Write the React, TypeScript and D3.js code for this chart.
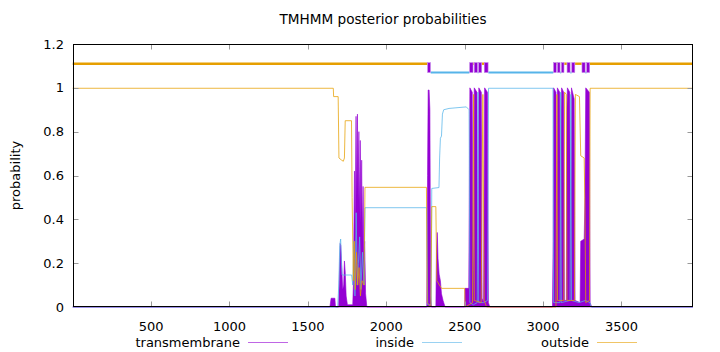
import * as d3 from 'd3';

// TMHMM posterior probabilities as [residue, probability]
const tmProb: [number, number][] = [
  [0, 0], [1640, 0], [1648, 0.04], [1672, 0.04], [1676, 0], [1696, 0], [1700, 0.12], [1706, 0.29],
  [1710, 0.28], [1716, 0.18], [1722, 0.08], [1728, 0.1], [1733, 0.21], [1738, 0.16], [1744, 0.05],
  [1752, 0.01], [1786, 0.01], [1790, 0.1], [1797, 0.62], [1801, 0.35], [1807, 0.87], [1811, 0.5],
  [1816, 0.88], [1820, 0.48], [1825, 0.8], [1829, 0.42], [1834, 0.76], [1838, 0.38], [1843, 0.67],
  [1847, 0.3], [1852, 0.55], [1857, 0.22], [1862, 0.3], [1868, 0.06], [1876, 0], [2258, 0],
  [2263, 0.6], [2267, 0.99], [2273, 0.99], [2278, 0.9], [2283, 0.05], [2288, 0], [2316, 0],
  [2320, 0.25], [2325, 0.34], [2330, 0.22], [2337, 0.15], [2345, 0.12], [2352, 0.06], [2362, 0.03],
  [2375, 0], [2500, 0], [2502, 0.085], [2526, 0.085], [2530, 0.6], [2533, 1.0], [2548, 0.98],
  [2555, 0.05], [2558, 0.3], [2561, 1.0], [2578, 0.98], [2584, 0.05], [2587, 0.3], [2590, 1.0],
  [2606, 0.98], [2611, 0.04], [2620, 0.02], [2624, 0.5], [2627, 1.0], [2645, 0.98], [2651, 0.02],
  [2660, 0], [3060, 0], [3064, 0.3], [3067, 1.0], [3082, 0.98], [3087, 0.05], [3091, 1.0],
  [3106, 0.98], [3111, 0.04], [3115, 0.9], [3118, 1.0], [3131, 0.98], [3136, 0.03], [3148, 0.03],
  [3152, 0.9], [3155, 1.0], [3170, 0.98], [3175, 0.05], [3181, 1.0], [3198, 0.95], [3204, 0.03],
  [3236, 0.02], [3240, 0.3], [3262, 0.31], [3267, 0.5], [3272, 1.0], [3295, 0.98], [3300, 0.02],
  [3310, 0], [3956, 0],
];

const insideProb: [number, number][] = [
  [0, 0], [1690, 0], [1697, 0.1], [1703, 0.28], [1709, 0.31], [1714, 0.2], [1718, 0.146],
  [1779, 0.146], [1786, 0.1], [1793, 0.3], [1800, 0.05], [1808, 0.43], [1815, 0.1], [1822, 0.2],
  [1830, 0.32], [1838, 0.08], [1848, 0.25], [1858, 0.1], [1864, 0.453], [2258, 0.453],
  [2264, 0.01], [2286, 0.01], [2290, 0.541], [2336, 0.545], [2340, 0.68], [2345, 0.77],
  [2352, 0.78], [2358, 0.88], [2366, 0.9], [2400, 0.906], [2510, 0.913], [2528, 0.9],
  [2533, 0.02], [2555, 0.01], [2580, 0.02], [2585, 0.98], [2589, 0.02], [2620, 0.02],
  [2646, 0.03], [2652, 0.998], [3063, 0.998], [3067, 0.02], [3108, 0.02], [3112, 0.98],
  [3116, 0.02], [3172, 0.03], [3177, 0.97], [3181, 0.03], [3230, 0.02], [3270, 0.03],
  [3299, 0.02], [3305, 0], [3956, 0],
];

const outsideProb: [number, number][] = [
  [0, 0.998], [1662, 0.998], [1664, 0.96], [1693, 0.96], [1698, 0.68], [1715, 0.67],
  [1726, 0.665], [1733, 0.68], [1738, 0.85], [1778, 0.85], [1782, 0.5], [1790, 0.12],
  [1796, 0.3], [1802, 0.08], [1810, 0.25], [1818, 0.1], [1826, 0.18], [1835, 0.05],
  [1845, 0.12], [1858, 0.1], [1864, 0.546], [2256, 0.546], [2261, 0.02], [2284, 0],
  [2290, 0.458], [2316, 0.458], [2322, 0.12], [2352, 0.085], [2500, 0.085], [2503, 0],
  [2550, 0.02], [2557, 0.97], [2561, 0.03], [2605, 0.02], [2616, 0.97], [2624, 0.03],
  [2640, 0], [3082, 0], [3088, 0.97], [3092, 0.03], [3132, 0.03], [3137, 0.98], [3148, 0.97],
  [3152, 0.03], [3200, 0.03], [3206, 0.97], [3232, 0.96], [3240, 0.69], [3262, 0.68],
  [3267, 0.45], [3272, 0.02], [3296, 0.03], [3300, 0.998], [3956, 0.998],
];

// predicted topology (residue ranges)
const outsideSegs: [number, number][] = [
  [0, 2262], [2555, 2559], [2610, 2623], [3086, 3090], [3135, 3151], [3204, 3246], [3299, 3956],
];
const insideSegs: [number, number][] = [
  [2283, 2530], [2583, 2587], [2651, 3065], [3110, 3115], [3174, 3181], [3270, 3276],
];
const tmSegs: [number, number][] = [
  [2262, 2283], [2530, 2555], [2559, 2583], [2587, 2610], [2623, 2651], [3065, 3086],
  [3090, 3110], [3115, 3135], [3151, 3174], [3181, 3204], [3246, 3270], [3276, 3299],
];

const xTicks = [500, 1000, 1500, 2000, 2500, 3000, 3500];
const yTicks = [0, 0.2, 0.4, 0.6, 0.8, 1, 1.2];
const legendItems = ['transmembrane', 'inside', 'outside'];

const W = 720;
const H = 352;
const C_TM = '#9400d3';
const C_IN = '#56b4e9';
const C_OUT = '#e69f00';
const FONT = 'DejaVu Sans, sans-serif';

export default function App() {
  const x = d3.scaleLinear().domain([0, 3956]).range([72.7, 693]);
  const y = d3.scaleLinear().domain([0, 1.2]).range([307, 44]);
  const left = 73.5;
  const right = 692.5;
  const top = 44.5;
  const bottom = 306.5;

  const area = d3.area<[number, number]>()
    .x(d => x(d[0]))
    .y0(y(0))
    .y1(d => y(d[1]));
  const line = d3.line<[number, number]>()
    .x(d => x(d[0]))
    .y(d => y(d[1]));

  const legendX = [240, 414, 589];
  const legendColors = [C_TM, C_IN, C_OUT];

  return (
    <svg width={W} height={H} style={{ position: 'absolute', left: 0, top: 0, background: '#fff' }}
      fontFamily={FONT} fontSize={13}>
      <rect width={W} height={H} fill="#fff" />
      <text x={383} y={24} textAnchor="middle" fill="#000" fontSize={13.6}>TMHMM posterior probabilities</text>
      <text transform={`translate(20,${(top + bottom) / 2}) rotate(-90)`} textAnchor="middle" fill="#000">probability</text>

      {/* probability curves */}
      <path d={area(tmProb) || ''} fill={C_TM} stroke={C_TM} strokeWidth={0.6} />
      <path d={line(insideProb) || ''} fill="none" stroke={C_IN} strokeWidth={1} strokeOpacity={0.75} />
      <path d={line(outsideProb) || ''} fill="none" stroke={C_OUT} strokeWidth={1} strokeOpacity={0.75} />

      {/* topology bar */}
      {outsideSegs.map((s, i) => (
        <line key={'o' + i} x1={x(s[0])} x2={x(s[1])} y1={y(1.11)} y2={y(1.11)} stroke={C_OUT} strokeWidth={2.4} />
      ))}
      {insideSegs.map((s, i) => (
        <line key={'i' + i} x1={x(s[0])} x2={x(s[1])} y1={y(1.07)} y2={y(1.07)} stroke={C_IN} strokeWidth={2.2} />
      ))}
      {tmSegs.map((s, i) => (
        <rect key={'t' + i} x={x(s[0]) + 0.3} width={Math.max(1, x(s[1]) - x(s[0]) - 0.6)} y={y(1.115)}
          height={y(1.07) - y(1.115)} fill={C_TM} stroke="#c080e8" strokeWidth={0.6} />
      ))}

      {/* ticks */}
      {yTicks.map(t => (
        <g key={'y' + t}>
          {t > 0 && t < 1.2 && <line x1={left} x2={left + 5} y1={Math.round(y(t)) + 0.5} y2={Math.round(y(t)) + 0.5} stroke="#999" />}
          {t > 0 && t < 1.2 && <line x1={right - 5} x2={right} y1={Math.round(y(t)) + 0.5} y2={Math.round(y(t)) + 0.5} stroke="#999" />}
          <text x={64} y={y(t) + 4.5} textAnchor="end" fill="#000">{t}</text>
        </g>
      ))}
      {xTicks.map(t => (
        <g key={'x' + t}>
          <line x1={Math.round(x(t)) + 0.5} x2={Math.round(x(t)) + 0.5} y1={bottom} y2={bottom - 5} stroke="#999" />
          <line x1={Math.round(x(t)) + 0.5} x2={Math.round(x(t)) + 0.5} y1={top} y2={top + 5} stroke="#999" />
          <text x={x(t)} y={331} textAnchor="middle" fill="#000">{t}</text>
        </g>
      ))}

      <rect x={left} y={top} width={right - left} height={bottom - top} fill="none" stroke="#000" strokeWidth={1} />

      {/* legend */}
      {legendItems.map((name, i) => (
        <g key={name}>
          <text x={legendX[i]} y={347} textAnchor="end" fill="#000">{name}</text>
          <line x1={legendX[i] + 8} x2={legendX[i] + 48} y1={342.5} y2={342.5} stroke={legendColors[i]} strokeOpacity={0.6} />
        </g>
      ))}
    </svg>
  );
}
